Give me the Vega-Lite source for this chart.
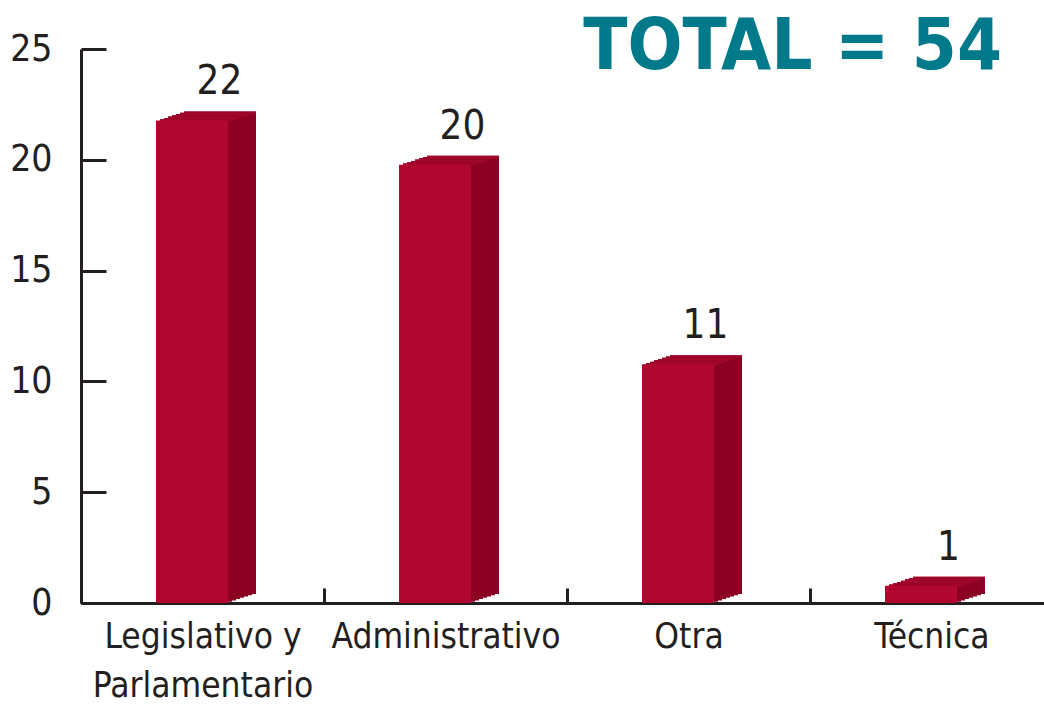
{
  "$schema": "https://vega.github.io/schema/vega-lite/v6.json",
  "autosize": {"type": "none"},
  "width": 963,
  "height": 554,
  "padding": {"left": 81, "top": 49, "right": 0, "bottom": 103},
  "background": "white",
  "config": {
    "view": {"stroke": null},
    "font": "DejaVu Sans Condensed, Roboto, sans-serif",
    "axis": {"labelFont": "DejaVu Sans Condensed, Roboto, sans-serif", "labelColor": "#231F20", "domainColor": "#231F20", "tickColor": "#231F20", "domainWidth": 3, "tickWidth": 3, "grid": false, "title": null, "labelLimit": 500}
  },
  "title": {"text": "TOTAL = 54", "anchor": "end", "frame": "group", "font": "DejaVu Sans Condensed, Roboto, sans-serif", "fontWeight": "bold", "fontSize": 72, "color": "#00798A", "baseline": "alphabetic", "offset": 0, "dy": 111, "dx": -42},
  "data": {"values": [
    {"categoria": "Legislativo y Parlamentario", "valor": 22},
    {"categoria": "Administrativo", "valor": 20},
    {"categoria": "Otra", "valor": 11},
    {"categoria": "Técnica", "valor": 1}
  ]},
  "encoding": {
    "x": {"field": "categoria", "type": "nominal", "sort": null,
      "scale": {"range": [0, 972], "paddingInner": 0, "paddingOuter": 0},
      "axis": {"labelAngle": 0, "labelFontSize": 35, "tickBand": "extent", "tickSize": -15, "labelPadding": 31, "labelLineHeight": 49,
        "labelExpr": "datum.value == 'Legislativo y Parlamentario' ? ['Legislativo y', 'Parlamentario'] : datum.label"}}
  },
  "layer": [
    {"mark": {"type": "bar", "width": 72, "color": "#8C0023", "xOffset": 17.5, "yOffset": -4.1, "y2Offset": -9.1},
     "encoding": {"y": {"field": "valor", "type": "quantitative", "scale": {"domain": [0, 25], "nice": false},
       "axis": {"values": [0, 5, 10, 15, 20, 25], "tickSize": -25, "labelPadding": 54, "labelFontSize": 37}}, "y2": {"datum": 0}}},
    {"mark": {"type": "bar", "width": 72, "color": "#A0052A", "xOffset": 17.5, "yOffset": -4.1, "y2Offset": -2.1},
     "encoding": {"y": {"field": "valor", "type": "quantitative"}, "y2": {"field": "valor"}}},
    {"mark": {"type": "bar", "width": 72, "color": "#8C0023", "xOffset": 13.5, "yOffset": -2.8, "y2Offset": -7.8},
     "encoding": {"y": {"field": "valor", "type": "quantitative"}, "y2": {"datum": 0}}},
    {"mark": {"type": "bar", "width": 72, "color": "#A0052A", "xOffset": 13.5, "yOffset": -2.8, "y2Offset": -0.8},
     "encoding": {"y": {"field": "valor", "type": "quantitative"}, "y2": {"field": "valor"}}},
    {"mark": {"type": "bar", "width": 72, "color": "#8C0023", "xOffset": 9.5, "yOffset": -1.5, "y2Offset": -6.5},
     "encoding": {"y": {"field": "valor", "type": "quantitative"}, "y2": {"datum": 0}}},
    {"mark": {"type": "bar", "width": 72, "color": "#A0052A", "xOffset": 9.5, "yOffset": -1.5, "y2Offset": 0.5},
     "encoding": {"y": {"field": "valor", "type": "quantitative"}, "y2": {"field": "valor"}}},
    {"mark": {"type": "bar", "width": 72, "color": "#8C0023", "xOffset": 5.5, "yOffset": -0.2, "y2Offset": -5.2},
     "encoding": {"y": {"field": "valor", "type": "quantitative"}, "y2": {"datum": 0}}},
    {"mark": {"type": "bar", "width": 72, "color": "#A0052A", "xOffset": 5.5, "yOffset": -0.2, "y2Offset": 1.8},
     "encoding": {"y": {"field": "valor", "type": "quantitative"}, "y2": {"field": "valor"}}},
    {"mark": {"type": "bar", "width": 72, "color": "#8C0023", "xOffset": 1.5, "yOffset": 1.1, "y2Offset": -3.9},
     "encoding": {"y": {"field": "valor", "type": "quantitative"}, "y2": {"datum": 0}}},
    {"mark": {"type": "bar", "width": 72, "color": "#A0052A", "xOffset": 1.5, "yOffset": 1.1, "y2Offset": 3.1},
     "encoding": {"y": {"field": "valor", "type": "quantitative"}, "y2": {"field": "valor"}}},
    {"mark": {"type": "bar", "width": 72, "color": "#8C0023", "xOffset": -2.5, "yOffset": 2.4, "y2Offset": -2.6},
     "encoding": {"y": {"field": "valor", "type": "quantitative"}, "y2": {"datum": 0}}},
    {"mark": {"type": "bar", "width": 72, "color": "#A0052A", "xOffset": -2.5, "yOffset": 2.4, "y2Offset": 4.4},
     "encoding": {"y": {"field": "valor", "type": "quantitative"}, "y2": {"field": "valor"}}},
    {"mark": {"type": "bar", "width": 72, "color": "#8C0023", "xOffset": -6.5, "yOffset": 3.7, "y2Offset": -1.3},
     "encoding": {"y": {"field": "valor", "type": "quantitative"}, "y2": {"datum": 0}}},
    {"mark": {"type": "bar", "width": 72, "color": "#A0052A", "xOffset": -6.5, "yOffset": 3.7, "y2Offset": 5.7},
     "encoding": {"y": {"field": "valor", "type": "quantitative"}, "y2": {"field": "valor"}}},
    {"mark": {"type": "bar", "width": 72, "color": "#B0062F", "xOffset": -10.5, "yOffset": 5, "y2Offset": 0},
     "encoding": {"y": {"field": "valor", "type": "quantitative"}, "y2": {"datum": 0}}},
    {"mark": {"type": "text", "font": "DejaVu Sans Condensed, Roboto, sans-serif", "fontSize": 40, "color": "#231F20", "dx": 17, "dy": -21, "baseline": "alphabetic", "align": "center"},
     "encoding": {"y": {"field": "valor", "type": "quantitative"}, "text": {"field": "valor", "type": "quantitative"}}}
  ]
}
